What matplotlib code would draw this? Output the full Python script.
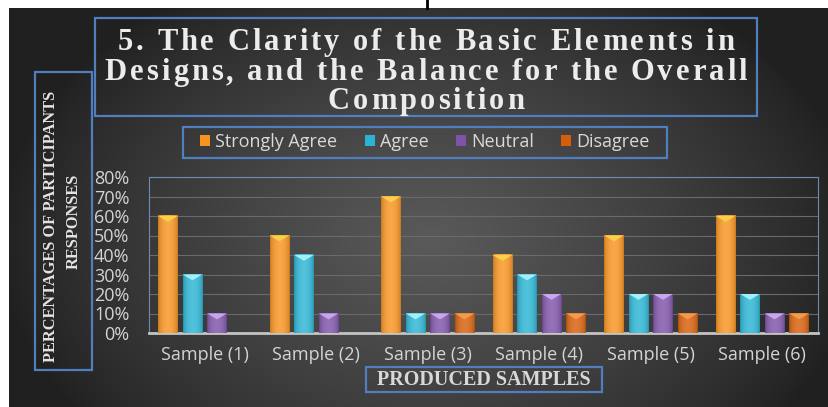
"""Clarity of basic elements / balance of composition - grouped bar chart."""
import numpy as np
import matplotlib
matplotlib.use("Agg")
import matplotlib.pyplot as plt
from matplotlib.patches import Rectangle, Polygon
from matplotlib.colors import to_rgb

plt.rcParams["font.family"] = ["Open Sans", "DejaVu Sans"]

# --- data ---
samples = ["Sample (1)", "Sample (2)", "Sample (3)", "Sample (4)", "Sample (5)", "Sample (6)"]
series_names = ["Strongly Agree", "Agree", "Neutral", "Disagree"]
strongly_agree = [0.60, 0.50, 0.70, 0.40, 0.50, 0.60]
agree = [0.30, 0.40, 0.10, 0.30, 0.20, 0.20]
neutral = [0.10, 0.10, 0.10, 0.20, 0.20, 0.10]
disagree = [0.00, 0.00, 0.10, 0.10, 0.10, 0.10]
yticks = [0.0, 0.1, 0.2, 0.3, 0.4, 0.5, 0.6, 0.7, 0.8]
ytick_labels = ["0%", "10%", "20%", "30%", "40%", "50%", "60%", "70%", "80%"]
title_lines = ["5. The Clarity of the Basic Elements in",
               "Designs, and the Balance for the Overall",
               "Composition"]

colors = ["#f7931e", "#2ab4d4", "#7e52a8", "#d65e0a"]
cap_colors = ["#fad048", "#a0f0fa", "#c9a5f0", "#f49a4a"]
BLUE = "#4f7fbf"

W, H = 829, 407
fig = plt.figure(figsize=(W / 100, H / 100), dpi=100)

# background axes in pixel coordinates (y down)
bg = fig.add_axes([0, 0, 1, 1])
bg.set_axis_off()
bg.set_xlim(0, W)
bg.set_ylim(H, 0)
yy, xx = np.mgrid[0:H, 0:W]
r = np.sqrt(((xx - 430) / 430) ** 2 + ((yy - 240) / 300) ** 2)
v = (0x20 + (0x5a - 0x20) * np.clip(1 - r, 0, 1) ** 0.8) / 255
rgb = np.dstack([v, v, v])
rgb[:8, :] = 1
rgb[:, :9] = 1
bg.imshow(rgb, extent=[0, W, H, 0], aspect="auto", interpolation="bilinear")
bg.plot([427, 427], [0, 8], color="black", lw=2)

renderer = fig.canvas.get_renderer()
serif = dict(family="Liberation Serif", weight="bold")


def spaced_text(s, cx, base_y, size, track, color):
    # the original title has wide letter spacing, so draw char by char
    probe = bg.text(0, 0, "|", fontsize=size, **serif)

    def width(t):
        probe.set_text(t + "|")
        return probe.get_window_extent(renderer).width

    w0 = width("")
    total = width(s) - w0 + track * (len(s) - 1)
    x0 = cx - total / 2
    for i, ch in enumerate(s):
        off = width(s[:i]) - w0 + track * i
        bg.text(x0 + off, base_y, ch, fontsize=size, color=color,
                ha="left", va="baseline", **serif)
    probe.remove()


# title box
bg.add_patch(Rectangle((95, 18), 662, 98, fill=False, ec=BLUE, lw=1.6))
for line, by in zip(title_lines, [50, 80, 109]):
    spaced_text(line, 426, by, 22, 3.0, "#ececec")

# y label box
bg.add_patch(Rectangle((35, 72), 57, 298, fill=False, ec=BLUE, lw=1.6))
bg.text(51, 226, "PERCENTAGES OF PARTICIPANTS", rotation=90, ha="center", va="center",
        fontsize=11.8, color="#e4e4e4", **serif)
bg.text(74, 221, "RESPONSES", rotation=90, ha="center", va="center",
        fontsize=11.8, color="#e4e4e4", **serif)

# x label box
bg.add_patch(Rectangle((366, 367), 236, 25, fill=False, ec=BLUE, lw=1.6))
bg.text(484, 380, "PRODUCED SAMPLES", ha="center", va="center",
        fontsize=14.5, color="#d8d8d8", **serif)

# legend box
bg.add_patch(Rectangle((183, 127), 484, 31, fill=False, ec=BLUE, lw=1.6))

# --- chart ---
ax = fig.add_axes([149 / W, 1 - 333 / H, 669 / W, 156 / H])
ax.patch.set_alpha(0)
x = np.arange(len(samples))
bar_w = 0.175
step = 0.22
cap_h = 0.03

handles = []
for k, vals in enumerate([strongly_agree, agree, neutral, disagree]):
    bars = ax.bar(x + (k - 1.5) * step, vals, bar_w, color=colors[k], zorder=2,
                  label=series_names[k])
    handles.append(bars)
    base = np.array(to_rgb(colors[k]))
    light = base + (1 - base) * 0.18
    dark = base * 0.8
    t = np.linspace(0, 1, 40)
    f = np.sin(np.pi * t) ** 0.5
    grad = dark[None, :] + (light - dark)[None, :] * f[:, None]
    for rect in bars:
        h = rect.get_height()
        if h <= 0:
            continue
        x0, bw = rect.get_x(), rect.get_width()
        ax.imshow(grad[None, :, :], extent=[x0, x0 + bw, 0, h], aspect="auto",
                  interpolation="bilinear", zorder=3)
        ax.add_patch(Polygon([(x0, h), (x0 + bw, h), (x0 + bw / 2, h - cap_h)],
                             closed=True, fc=cap_colors[k], ec="none", zorder=4))

ax.set_xlim(-0.5, len(samples) - 0.5)
ax.set_ylim(0, 0.8)
ax.set_yticks(yticks, labels=ytick_labels)
ax.set_xticks(x, labels=samples)
ax.tick_params(axis="y", length=0, pad=14, labelsize=13, labelcolor="#d4d4d4")
ax.tick_params(axis="x", length=0, pad=9, labelsize=13, labelcolor="#d4d4d4")
ax.yaxis.grid(True, color="#6a6a6a", lw=0.8)
ax.set_axisbelow(True)
for side in ["left", "top", "right"]:
    ax.spines[side].set_color("#6d8cb0")
    ax.spines[side].set_linewidth(0.8)
ax.spines["bottom"].set_color("#c4c4c4")
ax.spines["bottom"].set_linewidth(2)

fig.legend(handles, series_names, loc="center", bbox_to_anchor=(425 / W, 1 - 142 / H),
           ncol=4, frameon=False, handlelength=0.55, handleheight=0.55, handletextpad=0.3,
           columnspacing=1.5, fontsize=13, labelcolor="#d9d9d9")

fig.savefig("out.png", dpi=100)
